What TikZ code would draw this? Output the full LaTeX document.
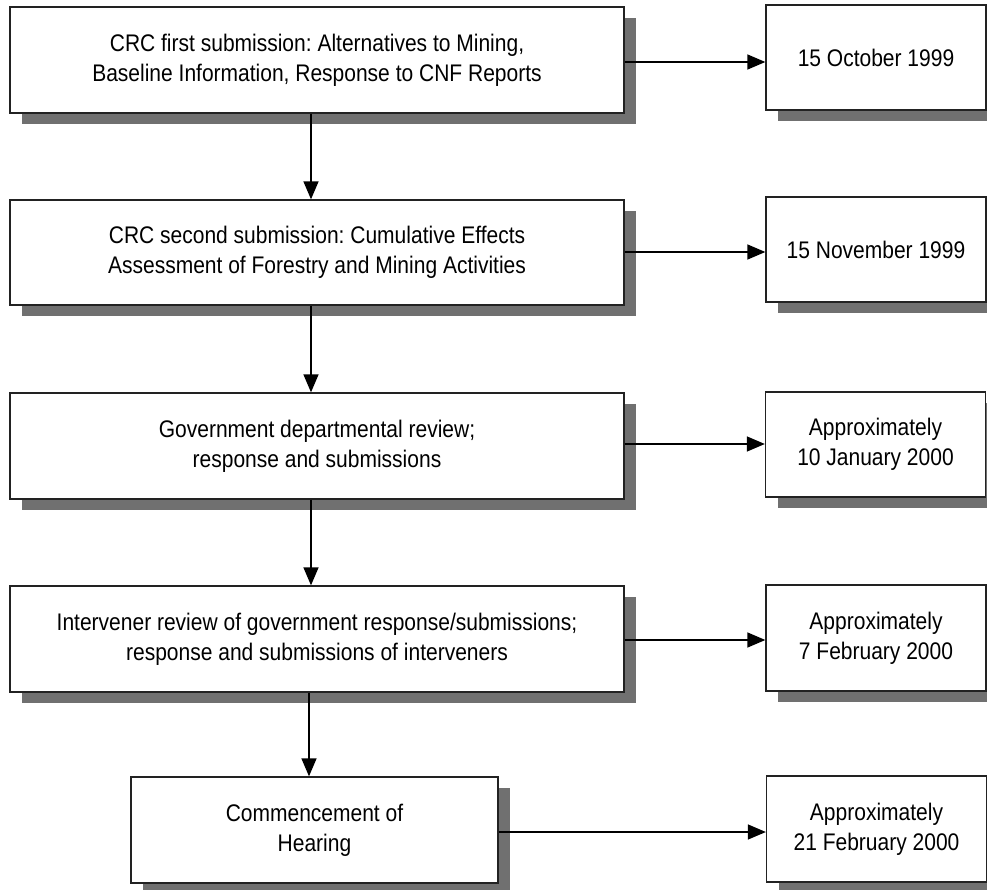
\documentclass[tikz,border=0pt]{standalone}
\usepackage{fontspec}
\setmainfont[FakeStretch=0.875]{Liberation Sans}
\usetikzlibrary{arrows.meta,shadows}
\definecolor{shadowgray}{HTML}{707070}
\definecolor{edgegray}{HTML}{222222}
\frenchspacing
\begin{document}
\begin{tikzpicture}[x=1pt,y=-1pt,
  box/.style={draw=edgegray, line width=1.3pt, fill=white, inner sep=0pt,
    align=center, font=\fontsize{24}{30}\selectfont,
    drop shadow={shadow xshift=12pt, shadow yshift=-11pt, fill=shadowgray, opacity=1}},
  stepbox/.style={box, minimum width=614pt, minimum height=106pt},
  datebox/.style={box, minimum width=220pt, minimum height=105pt},
  conn/.style={line width=1.4pt, draw=black, -{Triangle[length=18pt,width=15pt]}}]
\useasboundingbox (0,0) rectangle (987,890);
\node[stepbox] (b1) at (317,60) {CRC first submission: Alternatives to Mining,\\Baseline Information, Response to CNF Reports};
\node[stepbox, minimum height=105pt] (b2) at (317,252.5) {CRC second submission: Cumulative Effects\\Assessment of Forestry and Mining Activities};
\node[stepbox] (b3) at (317,446) {Government departmental review;\\response and submissions};
\node[stepbox] (b4) at (317,639) {Intervener review of government response/submissions;\\response and submissions of interveners};
\node[box, minimum width=367pt, minimum height=106pt] (b5) at (314.5,830) {Commencement of\\Hearing};
\node[datebox] (d1) at (876,57.5) {15 October 1999};
\node[datebox] (d2) at (876,249.5) {15 November 1999};
\node[datebox] (d3) at (875.5,444.5) {Approximately\\10 January 2000};
\node[datebox, minimum height=106pt] (d4) at (876,638) {Approximately\\7 February 2000};
\node[datebox, minimum height=106pt] (d5) at (876.5,829) {Approximately\\21 February 2000};
\coordinate (ax) at (311,0);
\draw[conn] (b1.south -| ax) -- (b2.north -| ax);
\draw[conn] (b2.south -| ax) -- (b3.north -| ax);
\draw[conn] (b3.south -| ax) -- (b4.north -| ax);
\draw[conn] ([xshift=-2pt]b4.south -| ax) -- ([xshift=-2pt]b5.north -| ax);
\draw[conn] ([yshift=-2pt]b1.east) -- ([yshift=-2pt]d1.west |- b1.east);
\draw[conn] ([yshift=0.5pt]b2.east) -- ([yshift=0.5pt]d2.west |- b2.east);
\draw[conn] ([yshift=2pt]b3.east) -- ([yshift=2pt]d3.west |- b3.east);
\draw[conn] ([yshift=-1pt]b4.east) -- ([yshift=-1pt]d4.west |- b4.east);
\draw[conn] ([yshift=-2pt]b5.east) -- ([yshift=-2pt]d5.west |- b5.east);
\end{tikzpicture}
\end{document}
